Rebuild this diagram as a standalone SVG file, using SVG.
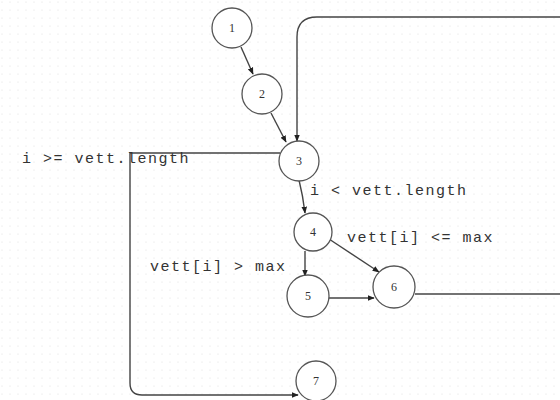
<svg xmlns="http://www.w3.org/2000/svg" width="560" height="400" viewBox="0 0 560 400">
<style>
.n circle{fill:#fff;stroke:#555;stroke-width:1.3}
.n text{font-family:"Liberation Serif",serif;font-size:12px;fill:#333;text-anchor:middle;dominant-baseline:central}
.e{fill:none;stroke:#444;stroke-width:1.4}
.lbl{font-family:"Liberation Mono",monospace;font-size:15px;letter-spacing:1.5px;fill:#333}
</style>
<defs>
<pattern id="dots" width="8" height="8" patternUnits="userSpaceOnUse"><circle cx="2" cy="2" r="0.6" fill="#ddd"/></pattern>
<marker id="ah" viewBox="0 0 10 10" refX="9" refY="5" markerWidth="5" markerHeight="5" orient="auto"><path d="M0,1 L10,5 L0,9 z" fill="#222"/></marker>
</defs>
<rect width="560" height="400" fill="#fff"/>
<rect width="560" height="400" fill="url(#dots)"/>
<g id="connectors">
<path class="e" d="M241,47 L253,74" marker-end="url(#ah)"/>
<path class="e" d="M271,113 L286,142" marker-end="url(#ah)"/>
<path class="e" d="M299,180 Q303,196 305,213" marker-end="url(#ah)"/>
<path class="e" d="M305,251 L305,276" marker-end="url(#ah)"/>
<path class="e" d="M329,239 L379,272" marker-end="url(#ah)"/>
<path class="e" d="M329,298 L374,298" marker-end="url(#ah)"/>
<path class="e" d="M415,294 L560,294"/>
<path class="e" d="M560,17 L317,17 Q297,17 297,37 L297,141" marker-end="url(#ah)"/>
<path class="e" d="M280,153 L130,153 L130,383 Q130,395 142,395 L298,395" marker-end="url(#ah)"/>
</g>
<g id="n1" class="n"><circle cx="232" cy="28" r="20"/><text x="232" y="28">1</text></g>
<g id="n2" class="n"><circle cx="262" cy="94" r="20"/><text x="262" y="94">2</text></g>
<g id="n3" class="n"><circle cx="299" cy="161" r="20"/><text x="299" y="161">3</text></g>
<g id="n4" class="n"><circle cx="313" cy="232" r="19"/><text x="313" y="232">4</text></g>
<g id="n5" class="n"><circle cx="308" cy="296" r="21"/><text x="308" y="296">5</text></g>
<g id="n6" class="n"><circle cx="394" cy="287" r="21"/><text x="394" y="287">6</text></g>
<g id="n7" class="n"><circle cx="316" cy="381" r="20"/><text x="316" y="381">7</text></g>
<g id="labels">
<text class="lbl" x="22" y="163">i &gt;= vett.length</text>
<text class="lbl" x="310" y="195">i &lt; vett.length</text>
<text class="lbl" x="347" y="242">vett[i] &lt;= max</text>
<text class="lbl" x="150" y="271">vett[i] &gt; max</text>
</g>
</svg>
